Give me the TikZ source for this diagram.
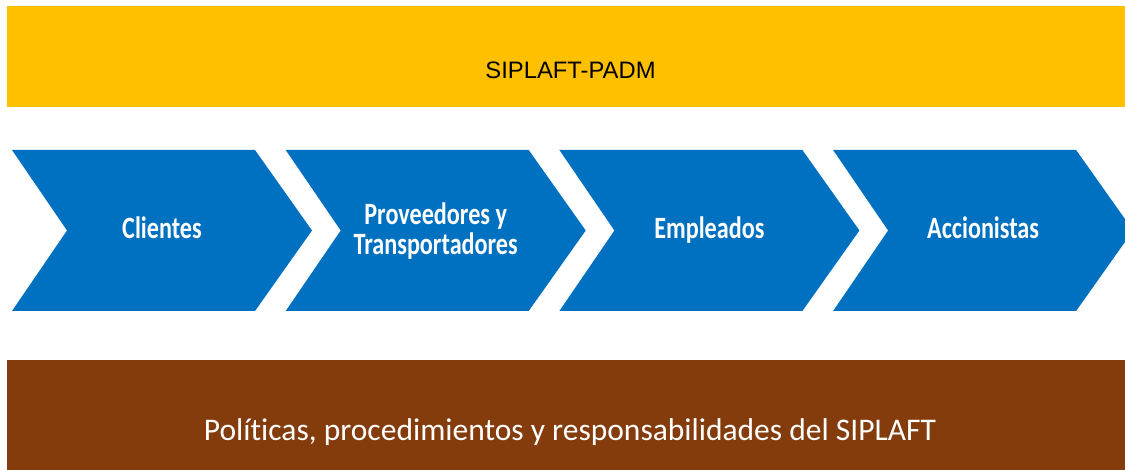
\documentclass[tikz,border=0pt]{standalone}
\usepackage{fontspec}
\setmainfont[Ligatures=NoCommon]{Carlito}
\newfontfamily\arialf{Liberation Sans}
\newfontfamily\chevf[FakeStretch=0.78,Ligatures=NoCommon]{Carlito}
\definecolor{bandyellow}{HTML}{FFC000}
\definecolor{chevblue}{HTML}{0070C0}
\definecolor{bandbrown}{HTML}{843C0C}
\begin{document}
\begin{tikzpicture}[x=1pt,y=-1pt,
  chevtext/.style={text=white,font=\chevf\bfseries\fontsize{31}{30}\selectfont,align=center,inner sep=0pt},
  chevshape/.style={fill=chevblue,draw=none}]
\useasboundingbox (0,0) rectangle (1125,470);
\clip (0,0) rectangle (1125,470);
% top band
\fill[bandyellow] (7,6) rectangle (1125,107);
\node[font=\arialf\fontsize{23.8}{25}\selectfont,text=black,inner sep=0pt,anchor=base] (top) at (570.5,79) {SIPLAFT-PADM};
% chevrons
\foreach \i/\name in {0/c1,1/c2,2/c3,3/c4}{
  \pgfmathsetmacro{\L}{12+273.7*\i}
  \fill[chevshape] (\L,150) -- (\L+243,150) -- (\L+300,230.5) -- (\L+243,311) -- (\L,311) -- (\L+55,230.5) -- cycle;
  \coordinate (\name) at (\L+150,238.5);
}
\node[chevtext,anchor=base] (t1) at (c1) {Clientes};
\node[chevtext,anchor=base] (t3) at (c3) {Empleados};
\node[chevtext,anchor=base] (t4) at (c4) {Accionistas};
\node[chevtext,anchor=base] (t2a) at ([yshift=13.5]c2) {Proveedores y};
\node[chevtext,anchor=base] (t2b) at ([yshift=-16.5]c2) {Transportadores};
% bottom band
\fill[bandbrown] (7,360) rectangle (1125,470);
\node[font=\fontsize{31.5}{33}\selectfont,text=white,inner sep=0pt,anchor=base] (bot) at (570,440) {Políticas, procedimientos y responsabilidades del SIPLAFT};
\end{tikzpicture}
\end{document}
